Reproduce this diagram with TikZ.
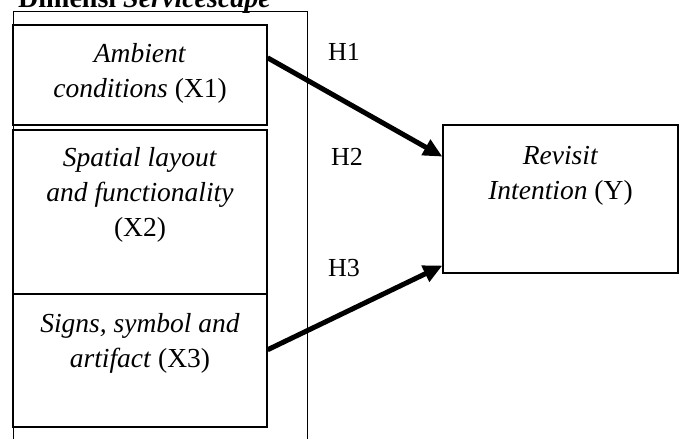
\documentclass[tikz,border=0pt]{standalone}
\usepackage{fontspec}
\setmainfont{Liberation Serif}
\usetikzlibrary{arrows.meta,calc}
\tikzset{
  modelarrow/.style={-{Triangle[length=19pt, width=17pt]}, line width=5pt,
    draw=black},
  modelbox/.style={draw=black, line width=1.2pt, rectangle, inner sep=0pt,
    minimum width=254pt},
  modeltext/.style={anchor=north, align=center, inner sep=0pt,
    font=\fontsize{27.5}{35}\selectfont},
  hyplabel/.style={inner sep=0pt, font=\fontsize{26}{30}\selectfont}
}

\begin{document}
\begin{tikzpicture}[x=1pt, y=-1pt]
  \useasboundingbox (0,0) rectangle (683,439);
  \clip (0,0) rectangle (683,439);

  % outer frame and its title
  \node[draw=black, line width=1.2pt, inner sep=0pt, minimum width=294pt,
    minimum height=460pt, anchor=north west] (frame) at (13,11) {};
  \node[anchor=base west, inner sep=0pt,
    font=\fontsize{28}{32}\selectfont\bfseries] (title) at (18,7)
    {Dimensi \textit{Servicescape}};

  % dimensions
  \node[modelbox, minimum height=100pt] (ambient) at (140,75) {};
  \node[modelbox, minimum height=164pt] (spatial) at (140,212) {};
  \node[modelbox, minimum height=133pt] (signs) at (140,360.5) {};
  \node[modeltext] (ambienttxt) at (140,43)
    {\textit{Ambient}\\\textit{conditions} (X1)};
  \node[modeltext] (spatialtxt) at (140,147)
    {\textit{Spatial layout}\\\textit{and functionality}\\(X2)};
  \node[modeltext] (signstxt) at (140,313)
    {\textit{Signs, symbol and}\\\textit{artifact} (X3)};

  % dependent variable
  \node[modelbox, minimum width=235pt, minimum height=148pt] (revisit)
    at (560.5,199) {};
  \node[modeltext] (revisittxt) at (560.5,146)
    {\textit{Revisit}\\\textit{Intention} (Y)};

  % hypotheses
  \draw[modelarrow] ($(ambient.north east)!0.33!(ambient.south east)$)
    -- ($(revisit.north west)!0.216!(revisit.south west)$);
  \draw[modelarrow] ($(signs.north east)!0.42!(signs.south east)$)
    -- ($(revisit.north west)!0.946!(revisit.south west)$);
  \node[hyplabel] (h1) at (344,52) {H1};
  \node[hyplabel] (h2) at (347,157) {H2};
  \node[hyplabel] (h3) at (344,268) {H3};
\end{tikzpicture}
\end{document}
